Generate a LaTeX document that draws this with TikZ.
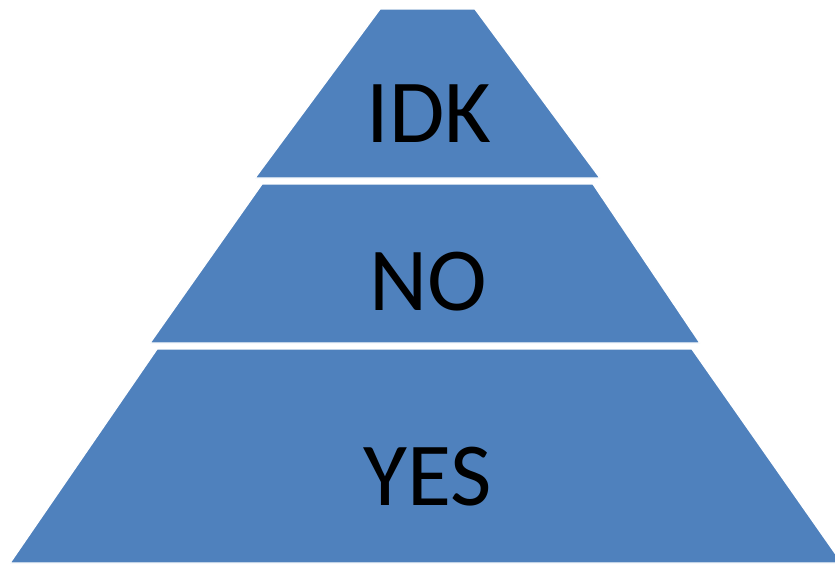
\documentclass[tikz,border=0pt]{standalone}
\usepackage{xcolor}
\usepackage{fontspec}
\usepackage{tikz}
\usetikzlibrary{positioning}
\newfontfamily\labelfont{Carlito}
\definecolor{layerblue}{RGB}{79,129,189}

\begin{document}
\begin{tikzpicture}[x=0.025cm, y=-0.025cm, every node/.style={font=\labelfont\fontsize{64}{64}\selectfont}]
    \tikzstyle{layer}=[fill=layerblue, draw=white, line width=1pt]
    \tikzstyle{tag}=[anchor=base, inner sep=0pt, text=black]
    \useasboundingbox (0,0) rectangle (835,567);
    % layers, top to bottom
    \filldraw[layer] (380,9) -- (475,9) -- (600,178) -- (255,178) -- cycle;
    \filldraw[layer] (262,184) -- (593,184) -- (700,343) -- (150,343) -- cycle;
    \filldraw[layer] (157,349) -- (692,349) -- (842,563) -- (10,563) -- cycle;
    \node[tag] (idk) at (429,142) {IDK};
    \node[tag] (no) at (428,310) {NO};
    \node[tag] (yes) at (428,505) {YES};
\end{tikzpicture}
\end{document}
